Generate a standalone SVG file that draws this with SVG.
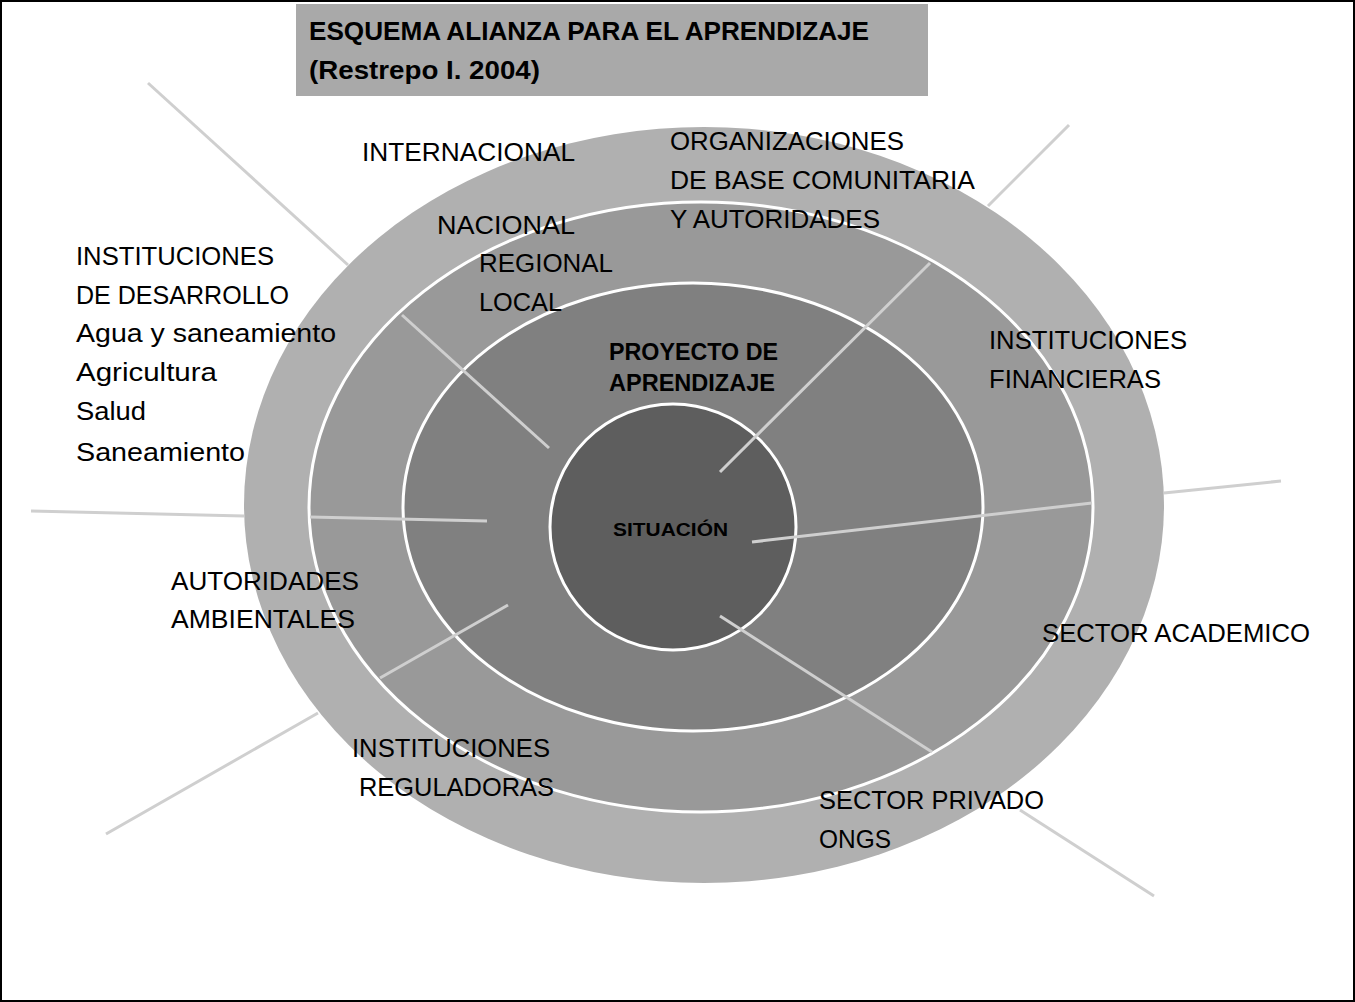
<svg xmlns="http://www.w3.org/2000/svg" width="1355" height="1002" viewBox="0 0 1355 1002">
<style>
.t{font-family:"Liberation Sans",Arial,sans-serif;font-size:25px;fill:#000}
.b{font-family:"Liberation Sans",Arial,sans-serif;font-weight:bold;fill:#000}
.ln{stroke:#cfcfcf;stroke-width:3;fill:none}
.ring{stroke:#fff;stroke-width:3}
</style>
<rect x="1" y="1" width="1353" height="1000" fill="#fff" stroke="#000" stroke-width="2"/>
<g id="title"><rect x="296" y="4" width="632" height="92" fill="#a9a9a9"/>
<text class="b" font-size="25" x="309" y="40" textLength="560" lengthAdjust="spacingAndGlyphs">ESQUEMA ALIANZA PARA EL APRENDIZAJE</text>
<text class="b" font-size="25" x="309" y="79" textLength="231" lengthAdjust="spacingAndGlyphs">(Restrepo I. 2004)</text></g>
<g id="rings">
<ellipse cx="704" cy="505" rx="460" ry="378" fill="#b0b0b0"/>
<ellipse class="ring" cx="701" cy="507" rx="392" ry="305" fill="#999"/>
<ellipse class="ring" cx="693" cy="507" rx="290" ry="224" fill="#808080"/>
<circle class="ring" cx="673" cy="527" r="123" fill="#5e5e5e"/>
</g>
<g id="connectors">
<line class="ln" x1="148" y1="83" x2="348" y2="265"/><line class="ln" x1="402" y1="315" x2="549" y2="448"/>
<line class="ln" x1="1069" y1="125" x2="988" y2="206"/><line class="ln" x1="930" y1="263" x2="720" y2="472"/>
<line class="ln" x1="1281" y1="481" x2="1164" y2="493"/><line class="ln" x1="1092" y1="503" x2="752" y2="542"/>
<line class="ln" x1="31" y1="511" x2="244" y2="516"/><line class="ln" x1="310" y1="517" x2="487" y2="521"/>
<line class="ln" x1="106" y1="834" x2="318" y2="713"/><line class="ln" x1="380" y1="678" x2="508" y2="605"/>
<line class="ln" x1="1154" y1="896" x2="1020" y2="810"/><line class="ln" x1="932" y1="752" x2="720" y2="616"/>
</g>
<g id="labels">
<text class="t" x="362" y="161" textLength="213" lengthAdjust="spacingAndGlyphs">INTERNACIONAL</text>
<text class="t" x="670" y="150" textLength="234" lengthAdjust="spacingAndGlyphs">ORGANIZACIONES</text>
<text class="t" x="670" y="189" textLength="305" lengthAdjust="spacingAndGlyphs">DE BASE COMUNITARIA</text>
<text class="t" x="670" y="228" textLength="210" lengthAdjust="spacingAndGlyphs">Y AUTORIDADES</text>
<text class="t" x="437" y="234" textLength="138" lengthAdjust="spacingAndGlyphs">NACIONAL</text>
<text class="t" x="479" y="272" textLength="134" lengthAdjust="spacingAndGlyphs">REGIONAL</text>
<text class="t" x="479" y="311" textLength="83" lengthAdjust="spacingAndGlyphs">LOCAL</text>
<text class="t" x="76" y="265" textLength="198" lengthAdjust="spacingAndGlyphs">INSTITUCIONES</text>
<text class="t" x="76" y="304" textLength="213" lengthAdjust="spacingAndGlyphs">DE DESARROLLO</text>
<text class="t" x="76" y="342" textLength="260" lengthAdjust="spacingAndGlyphs">Agua y saneamiento</text>
<text class="t" x="76" y="381" textLength="141" lengthAdjust="spacingAndGlyphs">Agricultura</text>
<text class="t" x="76" y="420" textLength="70" lengthAdjust="spacingAndGlyphs">Salud</text>
<text class="t" x="76" y="461" textLength="169" lengthAdjust="spacingAndGlyphs">Saneamiento</text>
<text class="b" font-size="23" x="609" y="360" textLength="169" lengthAdjust="spacingAndGlyphs">PROYECTO DE</text>
<text class="b" font-size="23" x="609" y="391" textLength="166" lengthAdjust="spacingAndGlyphs">APRENDIZAJE</text>
<text class="b" font-size="18" x="613" y="536" textLength="115" lengthAdjust="spacingAndGlyphs">SITUACIÓN</text>
<text class="t" x="989" y="349" textLength="198" lengthAdjust="spacingAndGlyphs">INSTITUCIONES</text>
<text class="t" x="989" y="388" textLength="172" lengthAdjust="spacingAndGlyphs">FINANCIERAS</text>
<text class="t" x="171" y="590" textLength="188" lengthAdjust="spacingAndGlyphs">AUTORIDADES</text>
<text class="t" x="171" y="628" textLength="184" lengthAdjust="spacingAndGlyphs">AMBIENTALES</text>
<text class="t" x="1042" y="642" textLength="268" lengthAdjust="spacingAndGlyphs">SECTOR ACADEMICO</text>
<text class="t" x="352" y="757" textLength="198" lengthAdjust="spacingAndGlyphs">INSTITUCIONES</text>
<text class="t" x="359" y="796" textLength="195" lengthAdjust="spacingAndGlyphs">REGULADORAS</text>
<text class="t" x="819" y="809" textLength="225" lengthAdjust="spacingAndGlyphs">SECTOR PRIVADO</text>
<text class="t" x="819" y="848" textLength="72" lengthAdjust="spacingAndGlyphs">ONGS</text>
</g>
</svg>
